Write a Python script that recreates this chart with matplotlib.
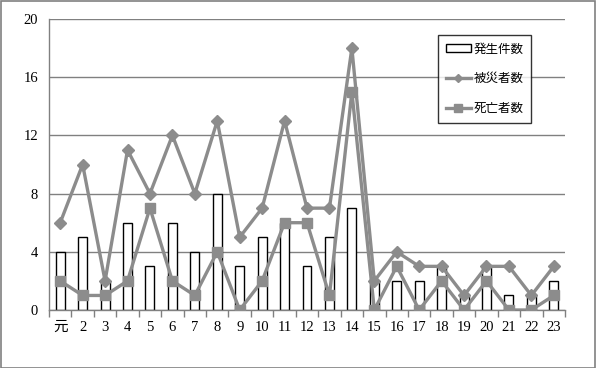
import numpy as np
import matplotlib.pyplot as plt
from matplotlib.patches import Rectangle

plt.rcParams['font.family'] = ['Liberation Serif', 'Noto Sans CJK JP']

years = ["元"] + [str(i) for i in range(2, 24)]
incidents = [4, 5, 2, 6, 3, 6, 4, 8, 3, 5, 6, 3, 5, 7, 2, 2, 2, 3, 1, 3, 1, 1, 2]
victims = [6, 10, 2, 11, 8, 12, 8, 13, 5, 7, 13, 7, 7, 18, 2, 4, 3, 3, 1, 3, 3, 1, 3]
deaths = [2, 1, 1, 2, 7, 2, 1, 4, 0, 2, 6, 6, 1, 15, 0, 3, 0, 2, 0, 2, 0, 0, 1]

W, H = 596, 368
fig = plt.figure(figsize=(W / 100, H / 100), dpi=100)
fig.patches.append(Rectangle((0.5 / W, 0.5 / H), 1 - 1.5 / W, 1 - 1.5 / H,
                             transform=fig.transFigure, fill=False,
                             edgecolor="#808080", linewidth=1.2))

ax = fig.add_axes([49 / W, 58 / H, (565 - 49) / W, (310 - 19) / H])
x = np.arange(len(years))
gray = "#8c8c8c"

bars = ax.bar(x, incidents, width=0.4, color="white", edgecolor="black",
              linewidth=1.0, zorder=2, label="発生件数")
l1, = ax.plot(x, victims, color=gray, linewidth=2.4, marker="D", markersize=6,
              zorder=3, label="被災者数")
l2, = ax.plot(x, deaths, color=gray, linewidth=2.4, marker="s", markersize=7.5,
              zorder=4, label="死亡者数")

ax.set_xlim(-0.5, len(years) - 0.5)
ax.set_ylim(0, 20)
ax.set_yticks(range(0, 21, 4))
ax.yaxis.grid(True, color="#808080", linewidth=1.0)
ax.set_axisbelow(True)
ax.tick_params(axis="y", length=0, pad=8, labelsize=10.5)

ax.set_xticks(x)
ax.set_xticklabels(years)
ax.set_xticks(np.arange(-0.5, len(years)), minor=True)
ax.tick_params(axis="x", which="major", length=0, pad=8, labelsize=10.5)
ax.tick_params(axis="x", which="minor", length=5, color="#808080", width=1)

for s in ["top", "right"]:
    ax.spines[s].set_visible(False)
for s in ["left", "bottom"]:
    ax.spines[s].set_color("#808080")
    ax.spines[s].set_linewidth(1.0)

leg = ax.legend([bars, l1, l2], ["発生件数", "被災者数", "死亡者数"],
                loc="upper left", bbox_to_anchor=((438 - 49) / 516, (310 - 35) / 291),
                frameon=True, fancybox=False, edgecolor="black",
                prop={"family": ["Noto Sans CJK JP"], "size": 9},
                handlelength=2.0, handleheight=0.6, labelspacing=1.35,
                borderpad=0.6, handletextpad=0.25, borderaxespad=0,
                markerscale=0.75)
leg.get_frame().set_linewidth(1.0)
leg.set_zorder(5)

fig.savefig("out.png", dpi=100)
